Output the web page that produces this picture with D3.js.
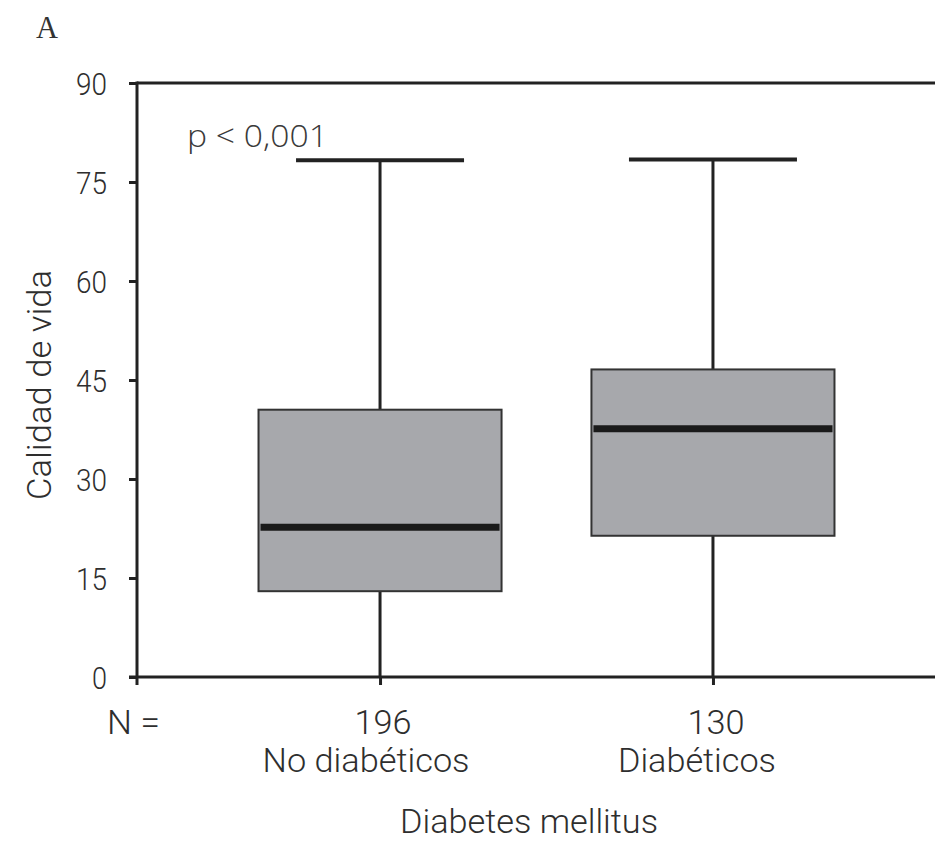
<html lang="es">
<head>
  <meta charset="utf-8">
  <script src="https://d3js.org/d3.v7.min.js"></script>
  <style>
    body { margin: 0; background: white; }
    .lbl { font-family: Roboto, "DejaVu Sans Condensed", Arial, sans-serif; font-weight: 300; fill: #2e2e2e; }
  </style>
</head>
<body>
  <svg id="chart" width="935" height="841"></svg>
  <script>
    // data
    const groups = ["No diabéticos", "Diabéticos"];
    const nCounts = [196, 130];
    const whiskerLow = [0, 0];
    const q1 = [13.0, 21.4];
    const medians = [22.7, 37.6];
    const q3 = [40.5, 46.6];
    const whiskerHigh = [78.3, 78.4];
    const yTicks = [0, 15, 30, 45, 60, 75, 90];

    const svg = d3.select("#chart");
    const margin = { top: 83, left: 137, bottom: 677 };

    const y = d3.scaleLinear().domain([0, 90]).range([margin.bottom, margin.top]);
    const x = d3.scalePoint().domain(groups).range([137, 956]).padding(0.73);
    const boxW = x.step() * 0.73;
    const capW = 168;
    const ink = "#222";

    const data = groups.map((g, i) => ({
      g: g, n: nCounts[i], lo: whiskerLow[i], q1: q1[i], med: medians[i], q3: q3[i], hi: whiskerHigh[i]
    }));

    // frame: top & bottom lines run off the right edge
    svg.append("line").attr("x1", 137).attr("x2", 940).attr("y1", y(90)).attr("y2", y(90))
      .attr("stroke", ink).attr("stroke-width", 3);

    // y axis
    const yAxis = svg.append("g").attr("transform", "translate(137,0)")
      .call(d3.axisLeft(y).tickValues(yTicks).tickSize(8).tickPadding(22));
    yAxis.select(".domain").remove();
    yAxis.selectAll(".tick line").attr("stroke", ink).attr("stroke-width", 3);
    yAxis.selectAll(".tick text").attr("class", "lbl").attr("dy", "0.36em")
      .style("font-size", "32px").attr("textLength", d => d < 10 ? 15 : 31)
      .attr("lengthAdjust", "spacingAndGlyphs");
    svg.append("line").attr("x1", 137).attr("x2", 137).attr("y1", y(90) - 1.5).attr("y2", y(0) + 8)
      .attr("stroke", ink).attr("stroke-width", 3);

    // x axis
    const xAxis = svg.append("g").attr("transform", "translate(0," + y(0) + ")")
      .call(d3.axisBottom(x).tickSize(8).tickFormat(""));
    xAxis.select(".domain").remove();
    xAxis.selectAll(".tick line").attr("stroke", ink).attr("stroke-width", 3);
    svg.append("line").attr("x1", 129).attr("x2", 940).attr("y1", y(0)).attr("y2", y(0))
      .attr("stroke", ink).attr("stroke-width", 3);

    const box = svg.append("g").selectAll("g").data(data).join("g");

    // whiskers
    box.append("line").attr("x1", d => x(d.g)).attr("x2", d => x(d.g))
      .attr("y1", d => y(d.hi)).attr("y2", d => y(d.q3))
      .attr("stroke", ink).attr("stroke-width", 3);
    box.append("line").attr("x1", d => x(d.g)).attr("x2", d => x(d.g))
      .attr("y1", d => y(d.q1)).attr("y2", d => y(d.lo))
      .attr("stroke", ink).attr("stroke-width", 3);
    box.append("line").attr("x1", d => x(d.g) - capW / 2).attr("x2", d => x(d.g) + capW / 2)
      .attr("y1", d => y(d.hi)).attr("y2", d => y(d.hi))
      .attr("stroke", ink).attr("stroke-width", 4);

    // boxes
    box.append("rect").attr("x", d => x(d.g) - boxW / 2).attr("width", boxW)
      .attr("y", d => y(d.q3)).attr("height", d => y(d.q1) - y(d.q3))
      .attr("fill", "#a7a8ac").attr("stroke", "#333").attr("stroke-width", 2);
    box.append("line").attr("x1", d => x(d.g) - boxW / 2 + 2).attr("x2", d => x(d.g) + boxW / 2 - 2)
      .attr("y1", d => y(d.med)).attr("y2", d => y(d.med))
      .attr("stroke", "#1a1a1a").attr("stroke-width", 7);

    // category labels
    box.append("text").attr("class", "lbl").attr("x", d => x(d.g) + 3).attr("y", 734)
      .attr("text-anchor", "middle").style("font-size", "33px")
      .attr("textLength", 57).attr("lengthAdjust", "spacingAndGlyphs").text(d => d.n);
    box.append("text").attr("class", "lbl").attr("x", (d, i) => x(d.g) - (i === 0 ? 14 : 16)).attr("y", 772)
      .attr("text-anchor", "middle").style("font-size", "33px")
      .attr("textLength", (d, i) => i === 0 ? 207 : 158).attr("lengthAdjust", "spacingAndGlyphs")
      .text(d => d.g);

    svg.append("text").attr("class", "lbl").attr("x", 107).attr("y", 734)
      .style("font-size", "33px").attr("textLength", 53).attr("lengthAdjust", "spacingAndGlyphs")
      .text("N =");

    svg.append("text").attr("class", "lbl").attr("x", 529).attr("y", 833)
      .attr("text-anchor", "middle").style("font-size", "33px")
      .attr("textLength", 258).attr("lengthAdjust", "spacingAndGlyphs").text("Diabetes mellitus");

    svg.append("text").attr("class", "lbl")
      .attr("transform", "translate(51,385) rotate(-90)")
      .attr("text-anchor", "middle").style("font-size", "34px")
      .attr("textLength", 230).attr("lengthAdjust", "spacingAndGlyphs").text("Calidad de vida");

    svg.append("text").attr("x", 187).attr("y", 147)
      .style("font-family", "'Open Sans', sans-serif").style("font-weight", "300").style("font-size", "31px")
      .attr("fill", "#3a3a3a").attr("textLength", 141).attr("lengthAdjust", "spacingAndGlyphs")
      .text("p < 0,001");

    svg.append("text").attr("x", 36).attr("y", 38)
      .style("font-family", "'Liberation Serif', 'DejaVu Serif', serif").style("font-size", "32px")
      .attr("fill", "#333").attr("textLength", 22).attr("lengthAdjust", "spacingAndGlyphs")
      .text("A");
  </script>
</body>
</html>
